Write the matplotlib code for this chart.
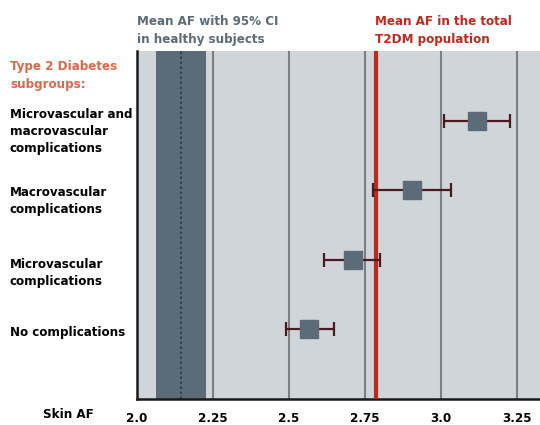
import numpy as np
import matplotlib.pyplot as plt

groups = ["Microvascular and\nmacrovascular\ncomplications",
          "Macrovascular\ncomplications",
          "Microvascular\ncomplications",
          "No complications"]
mean_af = [3.118, 2.905, 2.711, 2.566]
ci_low = [3.009, 2.777, 2.615, 2.489]
ci_high = [3.228, 3.032, 2.798, 2.647]

healthy_mean = 2.145
healthy_ci = (2.063, 2.227)
t2dm_mean = 2.786

xticks = [2.0, 2.25, 2.5, 2.75, 3.0, 3.25]
xtick_labels = ["2.0", "2.25", "2.5", "2.75", "3.0", "3.25"]

SLATE = "#5b6b77"
RED = "#c0281c"
ORANGE = "#d9694a"
BG = "#d0d5d9"

plt.rcParams["font.family"] = ["DejaVu Sans"]
plt.rcParams["font.stretch"] = "condensed"

W, H = 540, 425
fig = plt.figure(figsize=(W / 100, H / 100), dpi=100)
ax = fig.add_axes([137 / W, 1 - 399 / H, (W - 137) / W, 348 / H])
ax.set_facecolor(BG)

ypos = np.arange(len(groups), 0, -1)

# healthy reference band + mean
ax.axvspan(*healthy_ci, color=SLATE, zorder=1, lw=0)
ax.axvline(healthy_mean, color="#2c3a44", ls=(0, (1.5, 1.5)), lw=1.2, zorder=2)
for t in xticks[1:]:
    ax.axvline(t, color="#7b7f83", lw=1.5, zorder=1.5)
ax.axvline(t2dm_mean, color=RED, lw=3, zorder=3)

# subgroup means with 95% CI
m = np.array(mean_af)
err = [m - np.array(ci_low), np.array(ci_high) - m]
ax.errorbar(m, ypos, xerr=err, fmt="none", ecolor="#4a1a1f", elinewidth=1.6,
            capsize=5, capthick=1.6, zorder=4)
ax.plot(m, ypos, "s", color=SLATE, ms=13, mec=SLATE, zorder=5)

ax.set_xlim(2.0, 3.326)
ax.set_ylim(0, 5)
ax.set_yticks([])
ax.set_xticks(xticks)
ax.set_xticklabels(xtick_labels, fontweight="bold", fontsize=9.5)
ax.tick_params(axis="x", length=0, pad=9)
for s in ["top", "right"]:
    ax.spines[s].set_visible(False)
for s in ["left", "bottom"]:
    ax.spines[s].set_linewidth(1.8)
    ax.spines[s].set_color("#1a1a1a")

# row labels (last-line baselines, pixels from top)
label_base = [152, 213, 285, 336]
for g, yb in zip(groups, label_base):
    fig.text(10 / W, 1 - yb / H, g, fontsize=9.5, fontweight="bold",
             va="baseline", ha="left", linespacing=1.42)

hdr = dict(fontsize=9.5, fontweight="bold", va="baseline", ha="left", linespacing=1.52)
fig.text(10 / W, 1 - 88 / H, "Type 2 Diabetes\nsubgroups:", color=ORANGE, **hdr)
fig.text(137 / W, 1 - 43 / H, "Mean AF with 95% CI\nin healthy subjects", color=SLATE, **hdr)
fig.text(375 / W, 1 - 43 / H, "Mean AF in the total\nT2DM population", color=RED, **hdr)
fig.text(43 / W, 1 - 415 / H, "Skin AF", fontsize=9.5, fontweight="bold",
         va="center", ha="left")

fig.savefig("out.png", dpi=100)
